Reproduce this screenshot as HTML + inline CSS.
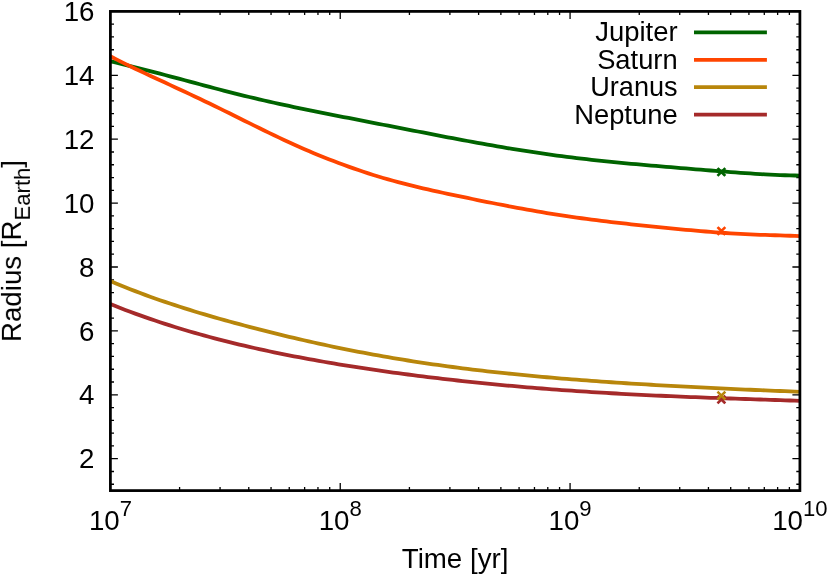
<!DOCTYPE html>
<html><head><meta charset="utf-8"><title>Radius vs Time</title>
<style>html,body{margin:0;padding:0;background:#fff;}svg{display:block;}text{font-family:"Liberation Sans",sans-serif;fill:#000;}</style></head><body>
<svg width="830" height="576" viewBox="0 0 830 576">
<rect width="830" height="576" fill="#fff"/>
<path d="M110.4,11.40h7.5 M799.9,11.40h-7.5 M110.4,24.18h3.6 M799.9,24.18h-3.6 M110.4,36.96h3.6 M799.9,36.96h-3.6 M110.4,49.74h3.6 M799.9,49.74h-3.6 M110.4,62.52h3.6 M799.9,62.52h-3.6 M110.4,75.30h7.5 M799.9,75.30h-7.5 M110.4,88.08h3.6 M799.9,88.08h-3.6 M110.4,100.86h3.6 M799.9,100.86h-3.6 M110.4,113.64h3.6 M799.9,113.64h-3.6 M110.4,126.42h3.6 M799.9,126.42h-3.6 M110.4,139.20h7.5 M799.9,139.20h-7.5 M110.4,151.98h3.6 M799.9,151.98h-3.6 M110.4,164.76h3.6 M799.9,164.76h-3.6 M110.4,177.54h3.6 M799.9,177.54h-3.6 M110.4,190.32h3.6 M799.9,190.32h-3.6 M110.4,203.10h7.5 M799.9,203.10h-7.5 M110.4,215.88h3.6 M799.9,215.88h-3.6 M110.4,228.66h3.6 M799.9,228.66h-3.6 M110.4,241.44h3.6 M799.9,241.44h-3.6 M110.4,254.22h3.6 M799.9,254.22h-3.6 M110.4,267.00h7.5 M799.9,267.00h-7.5 M110.4,279.78h3.6 M799.9,279.78h-3.6 M110.4,292.56h3.6 M799.9,292.56h-3.6 M110.4,305.34h3.6 M799.9,305.34h-3.6 M110.4,318.12h3.6 M799.9,318.12h-3.6 M110.4,330.90h7.5 M799.9,330.90h-7.5 M110.4,343.68h3.6 M799.9,343.68h-3.6 M110.4,356.46h3.6 M799.9,356.46h-3.6 M110.4,369.24h3.6 M799.9,369.24h-3.6 M110.4,382.02h3.6 M799.9,382.02h-3.6 M110.4,394.80h7.5 M799.9,394.80h-7.5 M110.4,407.58h3.6 M799.9,407.58h-3.6 M110.4,420.36h3.6 M799.9,420.36h-3.6 M110.4,433.14h3.6 M799.9,433.14h-3.6 M110.4,445.92h3.6 M799.9,445.92h-3.6 M110.4,458.70h7.5 M799.9,458.70h-7.5 M110.4,471.48h3.6 M799.9,471.48h-3.6 M110.4,484.26h3.6 M799.9,484.26h-3.6 M110.40,490.6v-7.5 M110.40,11.4v7.5 M179.59,490.6v-3.6 M179.59,11.4v3.6 M220.06,490.6v-3.6 M220.06,11.4v3.6 M248.77,490.6v-3.6 M248.77,11.4v3.6 M271.05,490.6v-3.6 M271.05,11.4v3.6 M289.25,490.6v-3.6 M289.25,11.4v3.6 M304.63,490.6v-3.6 M304.63,11.4v3.6 M317.96,490.6v-3.6 M317.96,11.4v3.6 M329.72,490.6v-3.6 M329.72,11.4v3.6 M340.23,490.6v-7.5 M340.23,11.4v7.5 M409.42,490.6v-3.6 M409.42,11.4v3.6 M449.89,490.6v-3.6 M449.89,11.4v3.6 M478.61,490.6v-3.6 M478.61,11.4v3.6 M500.88,490.6v-3.6 M500.88,11.4v3.6 M519.08,490.6v-3.6 M519.08,11.4v3.6 M534.47,490.6v-3.6 M534.47,11.4v3.6 M547.79,490.6v-3.6 M547.79,11.4v3.6 M559.55,490.6v-3.6 M559.55,11.4v3.6 M570.07,490.6v-7.5 M570.07,11.4v7.5 M639.25,490.6v-3.6 M639.25,11.4v3.6 M679.73,490.6v-3.6 M679.73,11.4v3.6 M708.44,490.6v-3.6 M708.44,11.4v3.6 M730.71,490.6v-3.6 M730.71,11.4v3.6 M748.91,490.6v-3.6 M748.91,11.4v3.6 M764.30,490.6v-3.6 M764.30,11.4v3.6 M777.63,490.6v-3.6 M777.63,11.4v3.6 M789.38,490.6v-3.6 M789.38,11.4v3.6 M799.90,490.6v-7.5 M799.90,11.4v7.5" stroke="#000" stroke-width="1.3" fill="none"/>
<path d="M110.4,61.09 L115.4,62.34 L120.3,63.59 L125.3,64.83 L130.2,66.08 L135.2,67.33 L140.2,68.59 L145.1,69.86 L150.1,71.13 L155.0,72.41 L160.0,73.70 L165.0,75.00 L169.9,76.31 L174.9,77.63 L179.8,78.95 L184.8,80.28 L189.8,81.61 L194.7,82.95 L199.7,84.28 L204.6,85.60 L209.6,86.92 L214.6,88.23 L219.5,89.53 L224.5,90.82 L229.5,92.09 L234.4,93.34 L239.4,94.58 L244.3,95.80 L249.3,97.01 L254.3,98.19 L259.2,99.36 L264.2,100.50 L269.1,101.63 L274.1,102.74 L279.1,103.83 L284.0,104.91 L289.0,105.97 L293.9,107.02 L298.9,108.06 L303.9,109.08 L308.8,110.10 L313.8,111.10 L318.7,112.10 L323.7,113.09 L328.7,114.08 L333.6,115.06 L338.6,116.04 L343.5,117.02 L348.5,117.99 L353.5,118.96 L358.4,119.93 L363.4,120.89 L368.3,121.86 L373.3,122.82 L378.3,123.79 L383.2,124.75 L388.2,125.72 L393.1,126.69 L398.1,127.65 L403.1,128.62 L408.0,129.58 L413.0,130.55 L417.9,131.51 L422.9,132.48 L427.9,133.44 L432.8,134.40 L437.8,135.35 L442.7,136.31 L447.7,137.26 L452.7,138.20 L457.6,139.14 L462.6,140.08 L467.6,141.00 L472.5,141.92 L477.5,142.83 L482.4,143.73 L487.4,144.61 L492.4,145.49 L497.3,146.35 L502.3,147.20 L507.2,148.03 L512.2,148.85 L517.2,149.66 L522.1,150.45 L527.1,151.22 L532.0,151.98 L537.0,152.72 L542.0,153.44 L546.9,154.15 L551.9,154.84 L556.8,155.51 L561.8,156.17 L566.8,156.81 L571.7,157.43 L576.7,158.04 L581.6,158.63 L586.6,159.21 L591.6,159.77 L596.5,160.32 L601.5,160.85 L606.4,161.37 L611.4,161.87 L616.4,162.36 L621.3,162.84 L626.3,163.32 L631.2,163.78 L636.2,164.23 L641.2,164.67 L646.1,165.11 L651.1,165.54 L656.0,165.97 L661.0,166.39 L666.0,166.81 L670.9,167.23 L675.9,167.64 L680.8,168.06 L685.8,168.47 L690.8,168.88 L695.7,169.29 L700.7,169.70 L705.7,170.10 L710.6,170.50 L715.6,170.90 L720.5,171.29 L725.5,171.68 L730.5,172.06 L735.4,172.43 L740.4,172.79 L745.3,173.14 L750.3,173.47 L755.3,173.79 L760.2,174.09 L765.2,174.37 L770.1,174.63 L775.1,174.86 L780.1,175.07 L785.0,175.24 L790.0,175.38 L794.9,175.48 L799.9,175.54" stroke="#006400" stroke-width="3.8" fill="none" stroke-linejoin="round"/>
<path d="M110.4,56.20 L115.4,58.83 L120.3,61.38 L125.3,63.88 L130.2,66.32 L135.2,68.71 L140.2,71.07 L145.1,73.40 L150.1,75.71 L155.0,78.01 L160.0,80.29 L165.0,82.58 L169.9,84.86 L174.9,87.15 L179.8,89.46 L184.8,91.77 L189.8,94.10 L194.7,96.44 L199.7,98.80 L204.6,101.18 L209.6,103.58 L214.6,106.00 L219.5,108.42 L224.5,110.87 L229.5,113.32 L234.4,115.78 L239.4,118.24 L244.3,120.70 L249.3,123.16 L254.3,125.61 L259.2,128.06 L264.2,130.48 L269.1,132.89 L274.1,135.28 L279.1,137.65 L284.0,139.98 L289.0,142.28 L293.9,144.54 L298.9,146.76 L303.9,148.93 L308.8,151.07 L313.8,153.15 L318.7,155.20 L323.7,157.20 L328.7,159.16 L333.6,161.09 L338.6,162.97 L343.5,164.81 L348.5,166.61 L353.5,168.36 L358.4,170.08 L363.4,171.75 L368.3,173.37 L373.3,174.94 L378.3,176.47 L383.2,177.95 L388.2,179.38 L393.1,180.76 L398.1,182.11 L403.1,183.41 L408.0,184.68 L413.0,185.92 L417.9,187.12 L422.9,188.29 L427.9,189.44 L432.8,190.56 L437.8,191.67 L442.7,192.75 L447.7,193.82 L452.7,194.88 L457.6,195.92 L462.6,196.96 L467.6,197.98 L472.5,199.00 L477.5,200.02 L482.4,201.02 L487.4,202.02 L492.4,203.01 L497.3,203.99 L502.3,204.96 L507.2,205.92 L512.2,206.86 L517.2,207.79 L522.1,208.70 L527.1,209.60 L532.0,210.48 L537.0,211.34 L542.0,212.18 L546.9,213.01 L551.9,213.82 L556.8,214.60 L561.8,215.37 L566.8,216.12 L571.7,216.85 L576.7,217.56 L581.6,218.25 L586.6,218.92 L591.6,219.57 L596.5,220.21 L601.5,220.83 L606.4,221.44 L611.4,222.03 L616.4,222.61 L621.3,223.18 L626.3,223.73 L631.2,224.28 L636.2,224.81 L641.2,225.34 L646.1,225.86 L651.1,226.38 L656.0,226.88 L661.0,227.38 L666.0,227.88 L670.9,228.36 L675.9,228.84 L680.8,229.31 L685.8,229.77 L690.8,230.22 L695.7,230.66 L700.7,231.09 L705.7,231.51 L710.6,231.91 L715.6,232.29 L720.5,232.66 L725.5,233.01 L730.5,233.34 L735.4,233.64 L740.4,233.92 L745.3,234.18 L750.3,234.40 L755.3,234.61 L760.2,234.79 L765.2,234.96 L770.1,235.12 L775.1,235.27 L780.1,235.42 L785.0,235.58 L790.0,235.76 L794.9,235.97 L799.9,236.21" stroke="#FF4500" stroke-width="3.8" fill="none" stroke-linejoin="round"/>
<path d="M110.4,281.03 L115.4,283.15 L120.3,285.21 L125.3,287.23 L130.2,289.21 L135.2,291.14 L140.2,293.02 L145.1,294.87 L150.1,296.67 L155.0,298.44 L160.0,300.18 L165.0,301.88 L169.9,303.55 L174.9,305.18 L179.8,306.79 L184.8,308.37 L189.8,309.92 L194.7,311.45 L199.7,312.95 L204.6,314.43 L209.6,315.88 L214.6,317.32 L219.5,318.73 L224.5,320.13 L229.5,321.51 L234.4,322.87 L239.4,324.21 L244.3,325.54 L249.3,326.85 L254.3,328.14 L259.2,329.42 L264.2,330.69 L269.1,331.94 L274.1,333.17 L279.1,334.39 L284.0,335.59 L289.0,336.78 L293.9,337.96 L298.9,339.12 L303.9,340.26 L308.8,341.39 L313.8,342.50 L318.7,343.59 L323.7,344.67 L328.7,345.74 L333.6,346.78 L338.6,347.81 L343.5,348.83 L348.5,349.82 L353.5,350.80 L358.4,351.77 L363.4,352.72 L368.3,353.65 L373.3,354.56 L378.3,355.46 L383.2,356.34 L388.2,357.20 L393.1,358.05 L398.1,358.88 L403.1,359.70 L408.0,360.50 L413.0,361.28 L417.9,362.05 L422.9,362.80 L427.9,363.54 L432.8,364.26 L437.8,364.97 L442.7,365.66 L447.7,366.34 L452.7,367.00 L457.6,367.65 L462.6,368.29 L467.6,368.91 L472.5,369.52 L477.5,370.11 L482.4,370.70 L487.4,371.27 L492.4,371.83 L497.3,372.37 L502.3,372.91 L507.2,373.43 L512.2,373.94 L517.2,374.45 L522.1,374.94 L527.1,375.42 L532.0,375.89 L537.0,376.35 L542.0,376.80 L546.9,377.24 L551.9,377.68 L556.8,378.10 L561.8,378.52 L566.8,378.93 L571.7,379.33 L576.7,379.72 L581.6,380.10 L586.6,380.48 L591.6,380.85 L596.5,381.21 L601.5,381.56 L606.4,381.91 L611.4,382.25 L616.4,382.59 L621.3,382.91 L626.3,383.24 L631.2,383.55 L636.2,383.86 L641.2,384.17 L646.1,384.47 L651.1,384.76 L656.0,385.05 L661.0,385.34 L666.0,385.62 L670.9,385.89 L675.9,386.17 L680.8,386.43 L685.8,386.69 L690.8,386.95 L695.7,387.21 L700.7,387.46 L705.7,387.70 L710.6,387.95 L715.6,388.19 L720.5,388.42 L725.5,388.65 L730.5,388.88 L735.4,389.11 L740.4,389.33 L745.3,389.55 L750.3,389.77 L755.3,389.98 L760.2,390.19 L765.2,390.40 L770.1,390.61 L775.1,390.81 L780.1,391.01 L785.0,391.21 L790.0,391.40 L794.9,391.60 L799.9,391.79" stroke="#B8860B" stroke-width="3.8" fill="none" stroke-linejoin="round"/>
<path d="M110.4,304.06 L115.4,306.05 L120.3,308.00 L125.3,309.91 L130.2,311.78 L135.2,313.61 L140.2,315.41 L145.1,317.16 L150.1,318.89 L155.0,320.57 L160.0,322.22 L165.0,323.84 L169.9,325.43 L174.9,326.98 L179.8,328.50 L184.8,329.99 L189.8,331.45 L194.7,332.88 L199.7,334.28 L204.6,335.65 L209.6,337.00 L214.6,338.32 L219.5,339.61 L224.5,340.88 L229.5,342.12 L234.4,343.34 L239.4,344.54 L244.3,345.71 L249.3,346.86 L254.3,347.99 L259.2,349.09 L264.2,350.18 L269.1,351.24 L274.1,352.29 L279.1,353.31 L284.0,354.32 L289.0,355.31 L293.9,356.28 L298.9,357.23 L303.9,358.17 L308.8,359.09 L313.8,359.99 L318.7,360.87 L323.7,361.75 L328.7,362.60 L333.6,363.44 L338.6,364.27 L343.5,365.08 L348.5,365.88 L353.5,366.67 L358.4,367.44 L363.4,368.20 L368.3,368.95 L373.3,369.68 L378.3,370.41 L383.2,371.12 L388.2,371.82 L393.1,372.51 L398.1,373.18 L403.1,373.85 L408.0,374.50 L413.0,375.15 L417.9,375.78 L422.9,376.41 L427.9,377.02 L432.8,377.62 L437.8,378.22 L442.7,378.80 L447.7,379.38 L452.7,379.94 L457.6,380.50 L462.6,381.04 L467.6,381.58 L472.5,382.11 L477.5,382.62 L482.4,383.13 L487.4,383.63 L492.4,384.12 L497.3,384.60 L502.3,385.07 L507.2,385.53 L512.2,385.98 L517.2,386.42 L522.1,386.86 L527.1,387.28 L532.0,387.70 L537.0,388.11 L542.0,388.51 L546.9,388.90 L551.9,389.28 L556.8,389.65 L561.8,390.02 L566.8,390.37 L571.7,390.72 L576.7,391.06 L581.6,391.39 L586.6,391.72 L591.6,392.04 L596.5,392.35 L601.5,392.65 L606.4,392.95 L611.4,393.23 L616.4,393.52 L621.3,393.79 L626.3,394.06 L631.2,394.32 L636.2,394.58 L641.2,394.83 L646.1,395.07 L651.1,395.31 L656.0,395.54 L661.0,395.77 L666.0,395.99 L670.9,396.21 L675.9,396.42 L680.8,396.63 L685.8,396.83 L690.8,397.03 L695.7,397.22 L700.7,397.41 L705.7,397.60 L710.6,397.79 L715.6,397.97 L720.5,398.15 L725.5,398.32 L730.5,398.50 L735.4,398.67 L740.4,398.84 L745.3,399.01 L750.3,399.18 L755.3,399.34 L760.2,399.51 L765.2,399.67 L770.1,399.84 L775.1,400.01 L780.1,400.17 L785.0,400.34 L790.0,400.50 L794.9,400.67 L799.9,400.84" stroke="#A52A2A" stroke-width="3.8" fill="none" stroke-linejoin="round"/>
<path d="M718.4,396.5L724.4,402.5M718.4,402.5L724.4,396.5" stroke="#A52A2A" stroke-width="2.6" fill="none" stroke-linecap="square"/>
<path d="M718.4,392.6L724.4,398.6M718.4,398.6L724.4,392.6" stroke="#B8860B" stroke-width="2.6" fill="none" stroke-linecap="square"/>
<path d="M718.4,228.0L724.4,234.0M718.4,234.0L724.4,228.0" stroke="#FF4500" stroke-width="2.6" fill="none" stroke-linecap="square"/>
<path d="M718.4,169.0L724.4,175.0M718.4,175.0L724.4,169.0" stroke="#006400" stroke-width="2.6" fill="none" stroke-linecap="square"/>
<rect x="110.4" y="11.4" width="689.5" height="479.2" fill="none" stroke="#000" stroke-width="2.75"/>
<path d="M694,32.3H766.9" stroke="#006400" stroke-width="3.8" fill="none"/>
<path d="M694,59.8H766.9" stroke="#FF4500" stroke-width="3.8" fill="none"/>
<path d="M694,87.2H766.9" stroke="#B8860B" stroke-width="3.8" fill="none"/>
<path d="M694,114.7H766.9" stroke="#A52A2A" stroke-width="3.8" fill="none"/>
<g opacity="0.999">
<text x="677.6" y="41.3" font-size="27.45" text-anchor="end">Jupiter</text>
<text x="677.6" y="68.8" font-size="27.3" text-anchor="end">Saturn</text>
<text x="677.6" y="96.2" font-size="27.1" text-anchor="end">Uranus</text>
<text x="677.6" y="123.7" font-size="27.35" text-anchor="end">Neptune</text>
<text x="94.5" y="468.3" font-size="27.7" text-anchor="end">2</text>
<text x="94.5" y="404.4" font-size="27.7" text-anchor="end">4</text>
<text x="94.5" y="340.5" font-size="27.7" text-anchor="end">6</text>
<text x="94.5" y="276.6" font-size="27.7" text-anchor="end">8</text>
<text x="94.5" y="212.7" font-size="27.7" text-anchor="end">10</text>
<text x="94.5" y="148.8" font-size="27.7" text-anchor="end">12</text>
<text x="94.5" y="84.9" font-size="27.7" text-anchor="end">14</text>
<text x="94.5" y="21.0" font-size="27.7" text-anchor="end">16</text>
<text x="88.9" y="530.3" font-size="27.7">10<tspan font-size="22.1" dy="-14.0">7</tspan></text>
<text x="318.7" y="530.3" font-size="27.7">10<tspan font-size="22.1" dy="-14.0">8</tspan></text>
<text x="548.5" y="530.3" font-size="27.7">10<tspan font-size="22.1" dy="-14.0">9</tspan></text>
<text x="772.2" y="530.3" font-size="27.7">10<tspan font-size="22.1" dy="-14.0">10</tspan></text>
<text x="455.1" y="568.4" font-size="27.7" text-anchor="middle">Time [yr]</text>
<text transform="translate(20.9,251.0) rotate(-90)" font-size="27.7" text-anchor="middle">Radius [R<tspan font-size="22.1" dy="8.5">Earth</tspan><tspan dy="-8.5">]</tspan></text>
</g>
</svg></body></html>
